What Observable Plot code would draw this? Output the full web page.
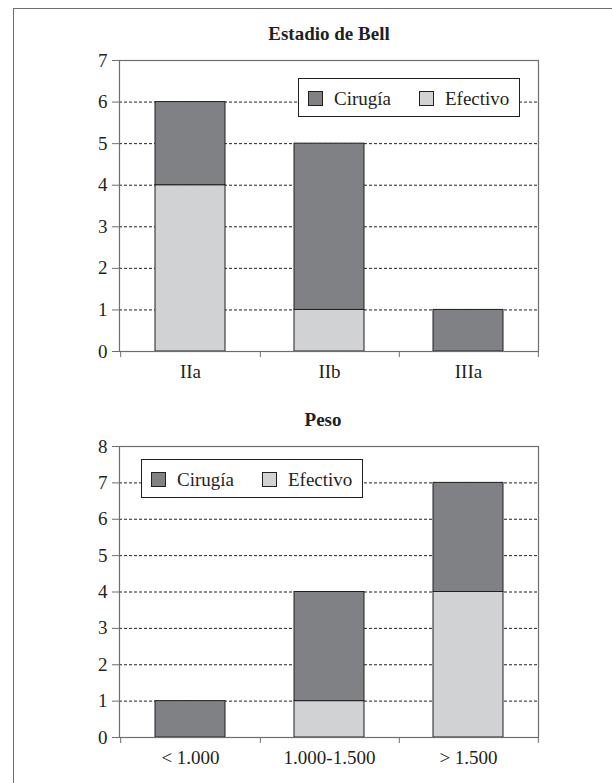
<!DOCTYPE html>
<html>
<head>
<meta charset="utf-8">
<script src="https://cdn.jsdelivr.net/npm/d3@7"></script>
<script src="https://cdn.jsdelivr.net/npm/@observablehq/plot@0.6"></script>
<style>
  body { margin: 0; background: #fff; }
  #page { position: relative; width: 612px; height: 783px; overflow: hidden; font-family: "Liberation Serif", "Times New Roman", serif; color: #231f20; }
  .outer { position: absolute; left: 13px; top: 8px; width: 620px; height: 800px; border-left: 1px solid #6d6e70; border-top: 1px solid #6d6e70; }
  .title { position: absolute; font-weight: bold; font-size: 19px; line-height: 19px; white-space: nowrap; transform: translateX(-50%); }
  .legend { position: absolute; width: 222px; height: 39px; border: 1px solid #231f20; background: #fff; box-sizing: border-box; }
  .sw { position: absolute; top: 12px; width: 15px; height: 15px; border: 1px solid #231f20; box-sizing: border-box; }
  .lt { position: absolute; top: 10px; font-size: 19px; line-height: 19px; white-space: nowrap; }
  .chart { position: absolute; left: 0; }
</style>
</head>
<body>
<div id="page"><div class="outer"></div></div>
<script>
const series = ["Cirugía", "Efectivo"];
const seriesColors = ["#808184", "#d1d2d4"];

const bellCats = ["IIa", "IIb", "IIIa"];
const bellCirugia = [2, 4, 1];
const bellEfectivo = [4, 1, 0];
const bellTicks = [0, 1, 2, 3, 4, 5, 6, 7];

const pesoCats = ["< 1.000", "1.000-1.500", "> 1.500"];
const pesoCirugia = [1, 3, 3];
const pesoEfectivo = [0, 1, 4];
const pesoTicks = [0, 1, 2, 3, 4, 5, 6, 7, 8];

const page = document.getElementById("page");

function makeChart(cats, cir, efe, ticks, opts) {
  const rows = [];
  cats.forEach((c, i) => {
    if (efe[i] > 0) rows.push({cat: c, serie: "Efectivo", value: efe[i]});
    if (cir[i] > 0) rows.push({cat: c, serie: "Cirugía", value: cir[i]});
  });
  const W = 612, ml = 119, mr = 74;
  const step = (W - ml - mr) / cats.length;
  const ymax = ticks[ticks.length - 1];
  const svg = Plot.plot({
    width: W,
    height: opts.height,
    marginLeft: ml,
    marginRight: mr,
    marginTop: opts.mt,
    marginBottom: opts.mb,
    style: {fontFamily: '"Liberation Serif", "Times New Roman", serif', fontSize: "19px", color: "#231f20", background: "transparent", overflow: "visible"},
    x: {domain: cats, paddingInner: 0.5, paddingOuter: 0.25, label: null},
    y: {domain: [0, ymax], label: null},
    color: {domain: series, range: seriesColors},
    marks: [
      Plot.gridY({ticks: ticks.slice(1, -1), stroke: "#231f20", strokeOpacity: 1, strokeWidth: 1, strokeDasharray: "3,2"}),
      Plot.barY(rows, {x: "cat", y: "value", fill: "serie", stroke: "#231f20", strokeWidth: 1, order: null}),
      Plot.frame({stroke: "#6d6e70", strokeWidth: 1.2}),
      Plot.axisY({ticks: ticks, tickSize: 7, tickPadding: 5, stroke: "#6d6e70", tickFormat: d => String(d)}),
      Plot.axisX({tickSize: 0, tickPadding: 13}),
      Plot.axisX({tickSize: 6, dx: step / 2, stroke: "#6d6e70", tickFormat: () => ""}),
      Plot.axisX({ticks: [cats[0]], tickSize: 6, dx: -step / 2, stroke: "#6d6e70", tickFormat: () => ""})
    ]
  });
  svg.classList.add("chart");
  svg.style.top = opts.top + "px";
  page.appendChild(svg);

  const t = document.createElement("div");
  t.className = "title";
  t.textContent = opts.title;
  t.style.left = opts.titleX + "px";
  t.style.top = opts.titleTop + "px";
  page.appendChild(t);

  const lg = document.createElement("div");
  lg.className = "legend";
  lg.style.left = opts.legX + "px";
  lg.style.top = opts.legY + "px";
  const offs = [[9, 35], [120, 146]];
  series.forEach((s, i) => {
    const sw = document.createElement("div");
    sw.className = "sw";
    sw.style.left = offs[i][0] + "px";
    sw.style.background = seriesColors[i];
    lg.appendChild(sw);
    const tx = document.createElement("div");
    tx.className = "lt";
    tx.style.left = offs[i][1] + "px";
    tx.textContent = s;
    lg.appendChild(tx);
  });
  page.appendChild(lg);
}

makeChart(bellCats, bellCirugia, bellEfectivo, bellTicks,
  {top: 0, height: 395, mt: 60, mb: 44, title: "Estadio de Bell", titleX: 329, titleTop: 24, legX: 298, legY: 78});
makeChart(pesoCats, pesoCirugia, pesoEfectivo, pesoTicks,
  {top: 395, height: 388, mt: 51, mb: 46, title: "Peso", titleX: 323, titleTop: 410, legX: 141, legY: 459});
</script>
</body>
</html>
